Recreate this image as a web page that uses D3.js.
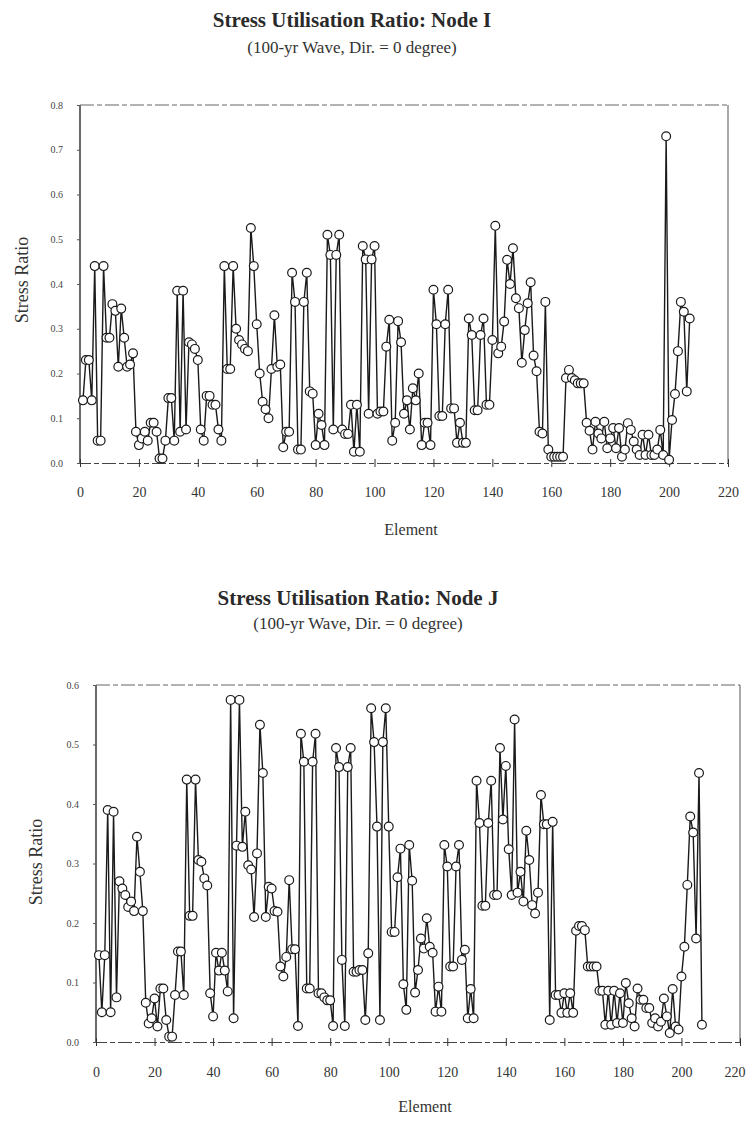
<!DOCTYPE html>
<html><head><meta charset="utf-8">
<script src="https://cdn.jsdelivr.net/npm/d3@7"></script>
<style>
body{margin:0;background:#fff}
svg{display:block}
text{font-family:"Liberation Serif","Times New Roman",serif}
</style>
</head><body>
<svg id="c" width="746" height="1122"></svg>
<script>
// ---- data ----
const nodeIValues = [
0.14,0.23,0.23,0.14,0.44,0.05,0.05,0.44,0.28,0.28,
0.355,0.34,0.215,0.345,0.28,0.215,0.22,0.245,0.07,0.04,
0.055,0.07,0.05,0.09,0.09,0.07,0.01,0.01,0.05,0.145,
0.145,0.05,0.385,0.07,0.385,0.075,0.27,0.265,0.255,0.23,
0.075,0.05,0.15,0.15,0.13,0.13,0.075,0.05,0.44,0.21,
0.21,0.44,0.30,0.275,0.265,0.255,0.25,0.525,0.44,0.31,
0.20,0.137,0.12,0.10,0.21,0.33,0.215,0.22,0.035,0.07,
0.07,0.425,0.36,0.03,0.03,0.36,0.425,0.16,0.155,0.04,
0.11,0.085,0.04,0.51,0.465,0.075,0.465,0.51,0.075,0.065,
0.065,0.13,0.025,0.13,0.025,0.485,0.455,0.11,0.455,0.485,
0.11,0.115,0.115,0.26,0.32,0.05,0.09,0.317,0.27,0.11,
0.14,0.075,0.167,0.14,0.20,0.04,0.09,0.09,0.04,0.387,
0.31,0.105,0.105,0.31,0.387,0.122,0.122,0.045,0.09,0.045,
0.045,0.323,0.286,0.118,0.118,0.286,0.323,0.13,0.13,0.275,
0.53,0.245,0.26,0.316,0.454,0.40,0.48,0.368,0.346,0.224,
0.297,0.357,0.404,0.24,0.205,0.07,0.066,0.36,0.03,0.014,
0.014,0.014,0.014,0.014,0.19,0.208,0.19,0.185,0.178,0.178,
0.178,0.09,0.072,0.03,0.092,0.066,0.055,0.092,0.033,0.055,
0.078,0.033,0.078,0.014,0.03,0.089,0.074,0.048,0.03,0.018,
0.063,0.018,0.063,0.018,0.018,0.03,0.074,0.018,0.73,0.007,
0.096,0.154,0.25,0.36,0.338,0.16,0.323];

const nodeJValues = [
0.146,0.05,0.146,0.39,0.05,0.387,0.075,0.27,0.258,0.247,
0.227,0.236,0.22,0.345,0.286,0.22,0.066,0.031,0.04,0.073,
0.026,0.09,0.09,0.037,0.009,0.009,0.079,0.152,0.152,0.079,
0.441,0.212,0.212,0.441,0.306,0.303,0.275,0.263,0.082,0.043,
0.15,0.12,0.15,0.12,0.085,0.575,0.04,0.33,0.575,0.328,
0.387,0.297,0.29,0.21,0.317,0.533,0.452,0.21,0.261,0.258,
0.22,0.219,0.127,0.11,0.143,0.272,0.156,0.156,0.027,0.518,
0.471,0.09,0.09,0.471,0.518,0.082,0.082,0.075,0.07,0.07,
0.027,0.494,0.462,0.138,0.027,0.462,0.494,0.118,0.118,0.121,
0.121,0.037,0.149,0.561,0.504,0.362,0.037,0.504,0.561,0.362,
0.185,0.185,0.277,0.325,0.097,0.054,0.331,0.271,0.083,0.121,
0.174,0.157,0.208,0.16,0.15,0.051,0.093,0.051,0.331,0.295,
0.127,0.127,0.295,0.331,0.138,0.155,0.04,0.089,0.04,0.439,
0.368,0.229,0.229,0.368,0.439,0.247,0.247,0.494,0.374,0.464,
0.324,0.247,0.542,0.251,0.286,0.236,0.355,0.306,0.23,0.216,
0.251,0.415,0.366,0.366,0.037,0.37,0.079,0.079,0.049,0.082,
0.049,0.082,0.049,0.187,0.195,0.195,0.188,0.127,0.127,0.127,
0.127,0.086,0.086,0.029,0.086,0.029,0.086,0.032,0.082,0.032,
0.099,0.065,0.04,0.026,0.09,0.071,0.071,0.057,0.057,0.032,
0.04,0.026,0.034,0.073,0.043,0.015,0.089,0.026,0.021,0.11,
0.16,0.264,0.379,0.352,0.174,0.452,0.029];

const xTicks = [0,20,40,60,80,100,120,140,160,180,200,220];
const yTicksI = [0,0.1,0.2,0.3,0.4,0.5,0.6,0.7,0.8];
const yTicksJ = [0,0.1,0.2,0.3,0.4,0.5,0.6];
const titleI = "Stress Utilisation Ratio: Node I";
const titleJ = "Stress Utilisation Ratio: Node J";
const subtitle = "(100-yr Wave, Dir. = 0 degree)";
const xTitle = "Element";
const yTitle = "Stress Ratio";

// ---- layout ----
const W = 746;
const charts = [
  {values: nodeIValues, yTicks: yTicksI, title: titleI,
   left: 80, right: 728, top: 105, bottom: 463,
   titleX: 352, titleY: 27, subY: 53, xLabY: 497, xTitleY: 535, yTitleX: 22, yTitleY: 280},
  {values: nodeJValues, yTicks: yTicksJ, title: titleJ,
   left: 96, right: 740, top: 685, bottom: 1042,
   titleX: 358, titleY: 605, subY: 629, xLabY: 1077, xTitleY: 1112, yTitleX: 36, yTitleY: 862}
];

const svg = d3.select("#c");
const ink = "#1a1a1a";

charts.forEach(c => {
  const g = svg.append("g");
  const x = d3.scaleLinear().domain([0, 220]).range([c.left, c.right]);
  const yMax = c.yTicks[c.yTicks.length - 1];
  const y = d3.scaleLinear().domain([0, yMax]).range([c.bottom, c.top]);

  // titles
  g.append("text").attr("x", c.titleX).attr("y", c.titleY).attr("text-anchor", "middle")
    .attr("font-size", 21).attr("font-weight", "bold").attr("fill", "#2a2a2a").text(c.title);
  g.append("text").attr("x", c.titleX).attr("y", c.subY).attr("text-anchor", "middle")
    .attr("font-size", 17).attr("fill", "#333").text(subtitle);

  // frame
  g.append("line").attr("x1", c.left).attr("x2", c.left).attr("y1", c.top).attr("y2", c.bottom)
    .attr("stroke", ink).attr("stroke-width", 1.3);
  g.append("line").attr("x1", c.right).attr("x2", c.right).attr("y1", c.top).attr("y2", c.bottom)
    .attr("stroke", "#555").attr("stroke-width", 1);
  g.append("line").attr("x1", c.left).attr("x2", c.right).attr("y1", c.top).attr("y2", c.top)
    .attr("stroke", "#666").attr("stroke-width", 1).attr("stroke-dasharray", "14,3,5,3");

  // y axis
  const ya = g.append("g").attr("transform", `translate(${c.left},0)`)
    .call(d3.axisLeft(y).tickValues(c.yTicks).tickFormat(d3.format(".1f")).tickSize(3).tickPadding(14));
  ya.select(".domain").remove();
  ya.selectAll("line").attr("stroke", "#555");
  ya.selectAll("text").attr("font-size", 10).attr("fill", "#444")
    .attr("font-family", "'Liberation Serif', serif");

  // x axis
  const xa = g.append("g").attr("transform", `translate(0,${c.bottom})`)
    .call(d3.axisBottom(x).tickValues(xTicks).tickFormat(d3.format("d")).tickSize(4));
  xa.select(".domain").attr("stroke", "#444").attr("stroke-dasharray", "14,3,5,3");
  xa.selectAll(".tick line").attr("y1", -4).attr("y2", 4).attr("stroke", "#333");
  xa.selectAll("text").attr("y", c.xLabY - c.bottom).attr("dy", 0)
    .attr("font-size", 14).attr("fill", "#333")
    .attr("font-family", "'Liberation Serif', serif")
    .each(function(d) {
      // keep a label that would run past the page edge inside it
      if (x(d) + 12 > W) d3.select(this).attr("text-anchor", "end").attr("x", W - 1 - x(d));
    });

  // axis titles
  g.append("text").attr("x", (c.left + c.right) / 2 + 7).attr("y", c.xTitleY).attr("text-anchor", "middle")
    .attr("font-size", 16).attr("fill", "#333").text(xTitle);
  g.append("text").attr("transform", `translate(${c.yTitleX},${c.yTitleY}) rotate(-90)`)
    .attr("text-anchor", "middle").attr("dy", "0.35em")
    .attr("font-size", 18).attr("fill", "#333").text(yTitle);

  // series
  const pts = c.values.map((v, i) => ({e: i + 1, v}));
  const line = d3.line().x(d => x(d.e)).y(d => y(d.v));
  g.append("path").datum(pts).attr("d", line).attr("fill", "none")
    .attr("stroke", ink).attr("stroke-width", 1.4).attr("stroke-linejoin", "round");
  g.selectAll("circle.m").data(pts).join("circle").attr("class", "m")
    .attr("cx", d => x(d.e)).attr("cy", d => y(d.v)).attr("r", 4.4)
    .attr("fill", "#fff").attr("stroke", ink).attr("stroke-width", 1.2);
});
</script>
</body></html>
